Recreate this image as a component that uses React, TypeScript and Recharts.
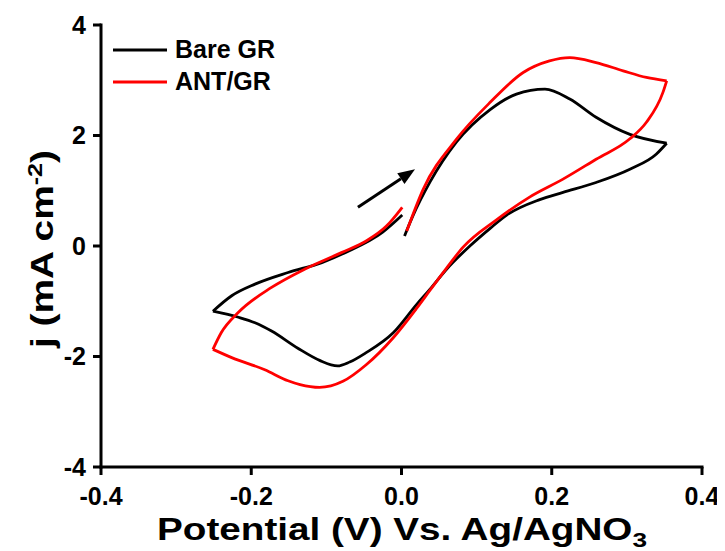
import { LineChart, Line, XAxis, YAxis, ReferenceLine } from "recharts";

// Cyclic voltammograms, split into three sweeps each so the vertices stay sharp
// forward: start -> +0.35 V, reverse: +0.35 V -> -0.25 V, back: -0.25 V -> 0 V
const bareFwdV = [0.004, 0.015, 0.038, 0.073, 0.118, 0.153, 0.191, 0.224, 0.259, 0.304, 0.353];
const bareFwdJ = [0.18, 0.54, 1.16, 1.88, 2.47, 2.75, 2.84, 2.66, 2.33, 2.02, 1.86];
const bareRevV = [0.353, 0.339, 0.304, 0.259, 0.215, 0.184, 0.14, 0.118, 0.091, 0.06, 0.038, 0.02, -0.011, -0.047, -0.069, -0.085, -0.109, -0.138, -0.173, -0.195, -0.217, -0.251];
const bareRevJ = [1.86, 1.66, 1.39, 1.15, 0.97, 0.84, 0.56, 0.32, 0.0, -0.42, -0.78, -1.06, -1.57, -1.93, -2.1, -2.17, -2.07, -1.85, -1.54, -1.39, -1.29, -1.18];
const bareBackV = [-0.251, -0.226, -0.195, -0.151, -0.106, -0.075, -0.025, 0.001];
const bareBackJ = [-1.18, -0.9, -0.69, -0.48, -0.3, -0.12, 0.25, 0.56];

const antFwdV = [0.007, 0.029, 0.073, 0.118, 0.162, 0.197, 0.224, 0.259, 0.295, 0.326, 0.353];
const antFwdJ = [0.27, 1.03, 1.93, 2.6, 3.14, 3.35, 3.41, 3.32, 3.17, 3.05, 2.99];
const antRevV = [0.353, 0.348, 0.326, 0.304, 0.259, 0.215, 0.171, 0.126, 0.082, 0.06, 0.038, 0.02, -0.011, -0.047, -0.078, -0.109, -0.135, -0.151, -0.182, -0.226, -0.251];
const antRevJ = [2.99, 2.78, 2.24, 1.94, 1.57, 1.21, 0.89, 0.47, -0.02, -0.4, -0.8, -1.13, -1.66, -2.15, -2.45, -2.56, -2.51, -2.44, -2.24, -2.02, -1.87];
const antBackV = [-0.251, -0.24, -0.217, -0.173, -0.129, -0.08, -0.047, -0.02, 0.001];
const antBackJ = [-1.87, -1.57, -1.2, -0.75, -0.42, -0.12, 0.09, 0.36, 0.7];

const xTicks = [-0.4, -0.2, 0, 0.2, 0.4];
const yTicks = [-4, -2, 0, 2, 4];

// scan direction arrow (V, j)
const arrowFrom = { x: -0.058, y: 0.7 };
const arrowTo = { x: 0.018, y: 1.39 };

const FONT = '"Liberation Sans", Arial, Helvetica, sans-serif';
const W = 717;
const H = 543;

const pts = (v: number[], j: number[]) => v.map((x, i) => ({ v: x, j: j[i] }));

const series = [
  { name: "Bare GR", color: "#000000", sweeps: [pts(bareFwdV, bareFwdJ), pts(bareRevV, bareRevJ), pts(bareBackV, bareBackJ)] },
  { name: "ANT/GR", color: "#ff0000", sweeps: [pts(antFwdV, antFwdJ), pts(antRevV, antRevJ), pts(antBackV, antBackJ)] },
];

const axisLine = { stroke: "#000", strokeWidth: 3, strokeLinecap: "square" as const };
const tickLine = { stroke: "#000", strokeWidth: 3 };
const tickStyle = { fill: "#000", fontSize: 25, fontWeight: 700, fontFamily: FONT };

function Arrow(p: any) {
  const { x1, y1, x2, y2 } = p;
  if ([x1, y1, x2, y2].some((n) => typeof n !== "number")) return null;
  const dx = x2 - x1;
  const dy = y2 - y1;
  const len = Math.hypot(dx, dy);
  const ux = dx / len;
  const uy = dy / len;
  const head = 17;
  const half = 6.5;
  const bx = x2 - ux * head;
  const by = y2 - uy * head;
  return (
    <g>
      <line x1={x1} y1={y1} x2={bx} y2={by} stroke="#000" strokeWidth={3} />
      <polygon
        points={`${x2},${y2} ${bx - uy * half},${by + ux * half} ${bx + uy * half},${by - ux * half}`}
        fill="#000"
      />
    </g>
  );
}

export default function App() {
  return (
    <div style={{ position: "relative", width: W, height: H, background: "#fff" }}>
      <LineChart width={W} height={H} margin={{ top: 17, right: 23, bottom: 24, left: 33 }}>
        <XAxis
          xAxisId="x"
          dataKey="v"
          type="number"
          domain={[-0.4, 0.4]}
          ticks={xTicks}
          interval={0}
          allowDataOverflow
          height={60}
          tickSize={8}
          tickMargin={12}
          axisLine={axisLine}
          tickLine={tickLine}
          tick={tickStyle}
          tickFormatter={(v: number) => v.toFixed(1)}
        />
        <XAxis xAxisId="top" orientation="top" type="number" domain={[-0.4, 0.4]} height={0} tick={false} tickLine={false} axisLine={axisLine} />
        <YAxis
          yAxisId="y"
          type="number"
          domain={[-4, 4]}
          ticks={yTicks}
          interval={0}
          allowDataOverflow
          width={60}
          tickSize={8}
          tickMargin={7}
          axisLine={axisLine}
          tickLine={tickLine}
          tick={tickStyle}
        />
        <YAxis yAxisId="right" orientation="right" type="number" domain={[-4, 4]} width={0} tick={false} tickLine={false} axisLine={axisLine} />
        {series.map((s) =>
          s.sweeps.map((d, k) => (
            <Line
              key={`${s.name}-${k}`}
              xAxisId="x"
              yAxisId="y"
              data={d}
              dataKey="j"
              type="monotone"
              stroke={s.color}
              strokeWidth={2.8}
              dot={false}
              activeDot={false}
              legendType="none"
              isAnimationActive={false}
            />
          ))
        )}
        <ReferenceLine xAxisId="x" yAxisId="y" segment={[arrowFrom, arrowTo]} shape={Arrow} />
      </LineChart>
      <svg width={W} height={H} style={{ position: "absolute", left: 0, top: 0, pointerEvents: "none" }}>
        <g fontFamily={FONT} fontWeight={700} fill="#000">
          {series.map((s, i) => (
            <g key={s.name}>
              <line x1={105} x2={159} y1={42 + i * 32} y2={42 + i * 32} stroke={s.color} strokeWidth={3} />
              <text x={167} y={50 + i * 32} fontSize={25}>
                {s.name}
              </text>
            </g>
          ))}
          <text x={394} y={532} fontSize={31} textAnchor="middle" textLength={490} lengthAdjust="spacingAndGlyphs">
            Potential (V) Vs. Ag/AgNO
            <tspan dy={7} fontSize={21}>3</tspan>
          </text>
          <text
            transform="translate(45,241) rotate(-90)"
            fontSize={31}
            textAnchor="middle"
            textLength={198}
            lengthAdjust="spacingAndGlyphs"
          >
            j (mA cm
            <tspan dy={-11} fontSize={20}>-2</tspan>
            <tspan dy={11}>)</tspan>
          </text>
        </g>
      </svg>
    </div>
  );
}
